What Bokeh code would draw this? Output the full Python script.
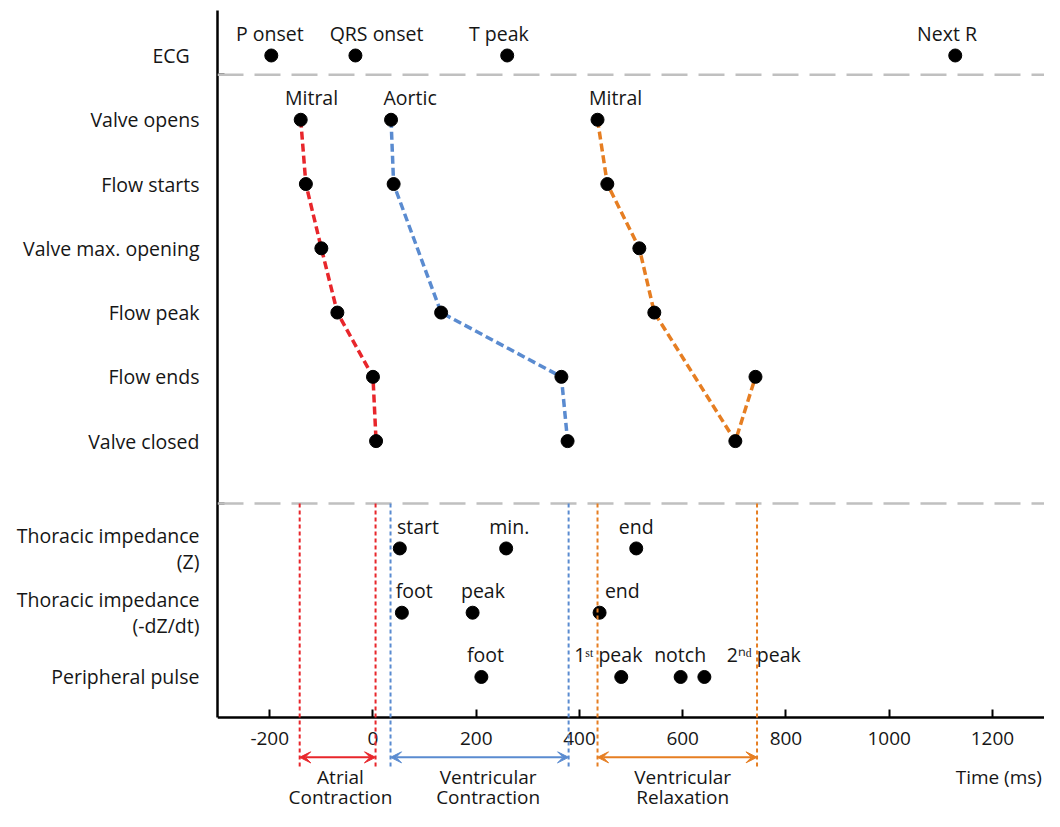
import numpy as np
from bokeh.plotting import figure
from bokeh.models import Range1d, FixedTicker, Span, Arrow, VeeHead, Label
from bokeh.core.properties import value
from bokeh.embed import file_html
from bokeh.resources import INLINE

# ---------------- data ----------------
row_labels = ["ECG", "Valve opens", "Flow starts", "Valve max. opening", "Flow peak",
              "Flow ends", "Valve closed", "Thoracic impedance\n(Z)",
              "Thoracic impedance\n(-dZ/dt)", "Peripheral pulse"]
row_pos = [0, 100, 200, 300, 400, 500, 600, 767, 867, 967]
separators = [30, 697]
x_ticks = [-200, 0, 200, 400, 600, 800, 1000, 1200]
x_tick_labels = ["-200", "0", "200", "400", "600", "800", "1000", "1200"]

ecg_events = ["P onset", "QRS onset", "T peak", "Next R"]
ecg_times = [-197, -34, 260, 1128]
ecg_label_x = [-200, 7, 244, 1112]

valve_rows = ["Valve opens", "Flow starts", "Valve max. opening", "Flow peak", "Flow ends", "Valve closed"]
mitral_open_times = [-140, -130, -100, -69, 0, 6]
aortic_rows = ["Valve opens", "Flow starts", "Flow peak", "Flow ends", "Valve closed"]
aortic_times = [35, 40, 132, 365, 377]
mitral_relax_times = [435, 454, 516, 545, 741, 702]
valve_names = ["Mitral", "Aortic", "Mitral"]
valve_label_x = [-119, 72, 470]

z_events = ["start", "min.", "end"]
z_times = [52, 258, 510]
z_label_x = [87, 264, 510]

dz_events = ["foot", "peak", "end"]
dz_times = [56, 193, 439]
dz_label_x = [80, 213, 483]

pulse_events = ["foot", "1\u02e2\u1d57 peak", "notch", "2\u207f\u1d48 peak"]
pulse_times = [210, 481, 596, 642]
pulse_label_x = [218, 456, 595, 757]

phase_line1 = ["Atrial", "Ventricular", "Ventricular"]
phase_line2 = ["Contraction", "Contraction", "Relaxation"]
phase_start = [-142, 34, 435]
phase_end = [5, 379, 744]
phase_label_x = [-63, 223, 600]

# ---------------- style ----------------
RED, BLUE, ORANGE = "#e8262b", "#5a8bd0", "#e67e22"
FONT = value("Open Sans")
LFONT = "Open Sans"
TXT = "#161616"
AXIS_Y = 1030          # data level where the time axis is drawn
pos = dict(zip(row_labels, row_pos))
rowy = lambda name: pos[name]

p = figure(width=1044, height=811, output_backend="svg", toolbar_location=None,
           x_range=Range1d(-301.2, 1300.9), y_range=Range1d(1176.3, -85.56),
           min_border_left=217, min_border_right=0, min_border_top=0, min_border_bottom=0)
p.grid.visible = False
p.outline_line_color = None

# x axis, drawn at a fixed level inside the plot
xa = p.xaxis[0]
xa.fixed_location = AXIS_Y
xa.ticker = FixedTicker(ticks=x_ticks)
xa.major_label_overrides = {k: v for k, v in zip(x_ticks, x_tick_labels)}
xa.major_tick_in = 8
xa.major_tick_out = 0
xa.minor_tick_line_color = None
xa.axis_line_width = 2.5
xa.axis_line_color = "black"
xa.major_tick_line_width = 2
xa.major_label_text_font = LFONT
xa.major_label_text_font_size = "19px"
xa.major_label_text_color = TXT
xa.major_label_standoff = 15

# y axis
ya = p.yaxis[0]
ya.bounds = (-70, AXIS_Y)
ya.ticker = FixedTicker(ticks=row_pos, minor_ticks=separators)
ya.major_label_overrides = {k: (v + "\u2002" if v == "ECG" else v) for k, v in zip(row_pos, row_labels)}
ya.major_tick_line_color = None
ya.minor_tick_in = 7
ya.minor_tick_out = 0
ya.minor_tick_line_width = 2
ya.minor_tick_line_color = "black"
ya.axis_line_width = 2.5
ya.axis_line_color = "black"
ya.major_label_text_font = LFONT
ya.major_label_text_font_size = "19.5px"
ya.major_label_text_line_height = 0.95
ya.major_label_text_color = TXT
ya.major_label_standoff = 12

# separators
for s in separators:
    p.add_layout(Span(location=s, dimension="width", line_color="#c0c0c0",
                      line_dash="26 11", line_width=2.5))

# phase markers (extend below the axis)
for c, a, b in zip([RED, BLUE, ORANGE], phase_start, phase_end):
    for xv in (a, b):
        p.add_layout(Arrow(x_start=xv, y_start=separators[1], x_end=xv, y_end=1111,
                           start=None, end=None, line_color=c, line_width=2, line_dash="4 3"))
    p.add_layout(Arrow(x_start=a, y_start=1092, x_end=b, y_end=1092, line_color=c, line_width=2,
                       start=VeeHead(size=11, fill_color=c, line_color=c),
                       end=VeeHead(size=11, fill_color=c, line_color=c)))
for xv, t1, t2 in zip(phase_label_x, phase_line1, phase_line2):
    p.add_layout(Label(x=xv, y=1122, text=t1, text_align="center", text_baseline="middle",
                       text_font=LFONT, text_font_size="19px", text_color=TXT))
    p.add_layout(Label(x=xv, y=1153, text=t2, text_align="center", text_baseline="middle",
                       text_font=LFONT, text_font_size="19px", text_color=TXT))

p.add_layout(Label(x=1296, y=1123, text="Time (ms)", text_align="right", text_baseline="middle",
                   text_font=LFONT, text_font_size="19px", text_color=TXT))

# valve sequences (lines sorted by time)
def seq(times, rows, color):
    ys = [rowy(r) for r in rows]
    order = np.argsort(times)
    p.line([times[i] for i in order], [ys[i] for i in order], line_color=color,
           line_width=3.5, line_dash="8 4")
    p.scatter(times, ys, size=13, color="black")

seq(mitral_open_times, valve_rows, RED)
seq(aortic_times, aortic_rows, BLUE)
seq(mitral_relax_times, valve_rows, ORANGE)

def events(times, label_x, labels, row):
    y = rowy(row)
    p.scatter(times, [y] * len(times), size=13, color="black")
    p.text(label_x, [y] * len(label_x), text=labels, text_align="center", text_baseline="middle",
           y_offset=-22, text_font=FONT, text_font_size="19.5px", text_color=TXT)

events(ecg_times, ecg_label_x, ecg_events, "ECG")
p.text(valve_label_x, [rowy("Valve opens")] * 3, text=valve_names, text_align="center",
       text_baseline="middle", y_offset=-22, text_font=FONT, text_font_size="19.5px",
       text_color=TXT)
events(z_times, z_label_x, z_events, "Thoracic impedance\n(Z)")
events(dz_times, dz_label_x, dz_events, "Thoracic impedance\n(-dZ/dt)")
events(pulse_times, pulse_label_x, pulse_events, "Peripheral pulse")

open("out.html", "w").write(file_html(p, INLINE))
